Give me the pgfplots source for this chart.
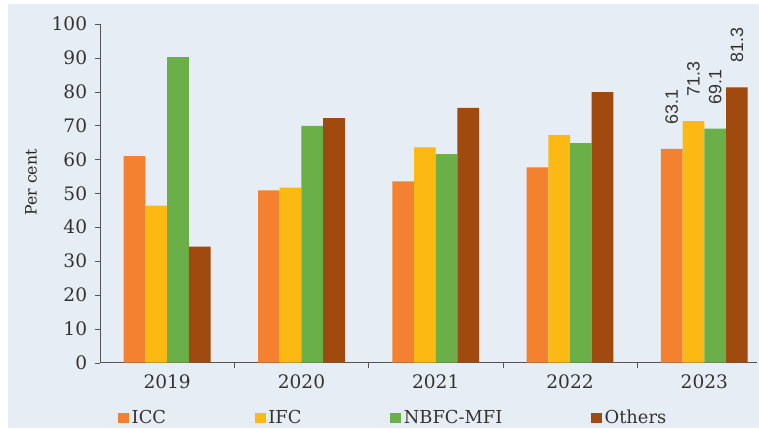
\documentclass[border=0pt]{standalone}
\usepackage{fontspec}
\setmainfont{DejaVu Serif}
\newfontfamily\lblfont{Liberation Sans}
\usepackage{pgfplots}
\pgfplotsset{compat=1.18}
\definecolor{bg}{HTML}{E7EDF4}
\definecolor{cICC}{HTML}{F4812F}
\definecolor{cIFC}{HTML}{FDB913}
\definecolor{cNBFC}{HTML}{6AAF48}
\definecolor{cOth}{HTML}{A04A10}
\definecolor{axgray}{HTML}{555555}
\begin{document}
\begin{tikzpicture}
\fill[white] (0pt,0pt) rectangle (531.3pt,-299.6pt);
\fill[bg] (5.6pt,-2.8pt) rectangle (531.3pt,-299.6pt);
\begin{axis}[
  at={(70pt,-253.89pt)}, anchor=south west,
  x=94.01pt, y=2.371pt,
  xmin=-0.5, xmax=4.39, ymin=0, ymax=100,
  ybar=0pt, bar width=15.19pt,
  axis x line*=bottom, axis y line*=left,
  axis line style={axgray,-},
  ytick={0,10,...,100},
  tick align=outside, major tick length=3.5pt,
  tick style={axgray},
  xtick={0.5,1.5,2.5,3.5}, xticklabels={},
  extra x ticks={0,1,2,3,4},
  extra x tick labels={2019,2020,2021,2022,2023},
  extra x tick style={major tick length=0pt, xticklabel style={yshift=-5pt}},
  ticklabel style={font=\fontsize{13}{15}\selectfont, text=black!80},
  yticklabel style={xshift=-2pt},
  /pgf/number format/assume math mode=true,
  ylabel={Per cent},
  ylabel style={at={(axis description cs:-0.105,0.532)}, anchor=center, rotate=0, font=\fontsize{11}{13}\selectfont, text=black!85},
  legend columns=4,
  legend cell align=left,
  legend style={at={(axis description cs:0.027,-0.163)}, anchor=west, draw=none, fill=none, inner sep=0pt,
    font=\fontsize{12.5}{14}\selectfont, text=black!80,
    /tikz/every even column/.append style={column sep=60pt}},
  legend image code/.code={\fill[#1] (0pt,-3.6pt) rectangle (7.6pt,3.6pt);},
  point meta=explicit symbolic,
  nodes near coords,
  nodes near coords style={yshift=17pt, rotate=90, anchor=west, inner sep=0pt, font=\lblfont\fontsize{12.5}{14}\selectfont, text=black!80},
]
\addplot[fill=cICC, draw=none] coordinates {(0,61.0)[] (1,50.9)[] (2,53.5)[] (3,57.7)[] (4,63.1)[63.1]};
\addplot[fill=cIFC, draw=none] coordinates {(0,46.4)[] (1,51.7)[] (2,63.6)[] (3,67.2)[] (4,71.3)[71.3]};
\addplot[fill=cNBFC, draw=none] coordinates {(0,90.2)[] (1,69.9)[] (2,61.6)[] (3,64.8)[] (4,69.1)[69.1]};
\addplot[fill=cOth, draw=none] coordinates {(0,34.3)[] (1,72.2)[] (2,75.2)[] (3,79.9)[] (4,81.3)[81.3]};
\legend{ICC,IFC,NBFC-MFI,Others}
\end{axis}
\end{tikzpicture}
\end{document}
